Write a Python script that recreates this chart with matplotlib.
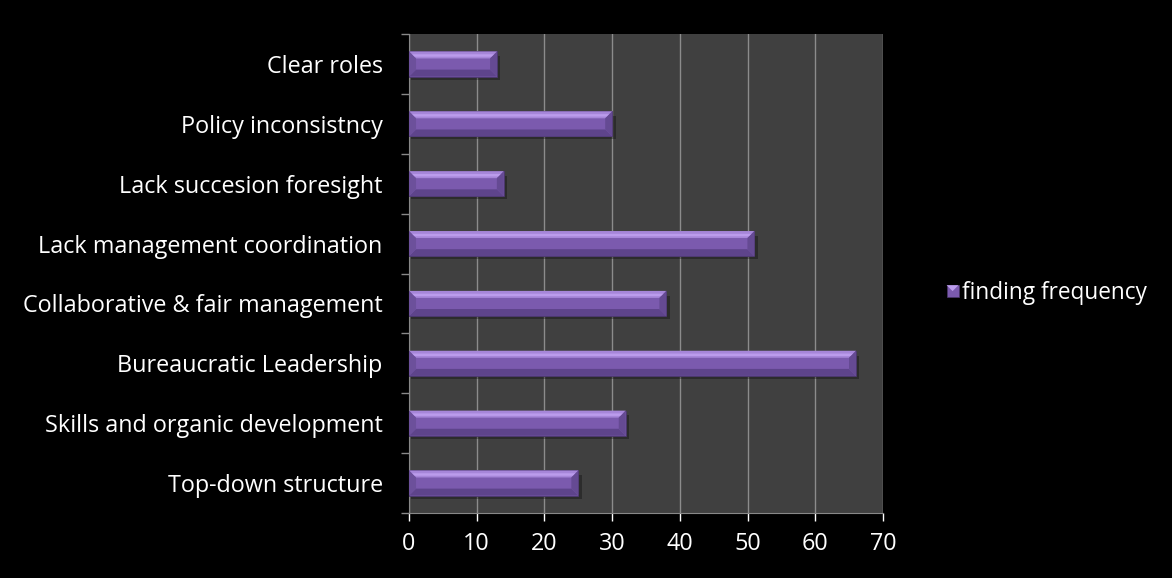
import matplotlib
matplotlib.use("Agg")
import matplotlib.pyplot as plt
from matplotlib.patches import Polygon, Patch
from matplotlib.legend_handler import HandlerPatch

categories = [
    "Top-down structure",
    "Skills and organic development",
    "Bureaucratic Leadership",
    "Collaborative & fair management",
    "Lack management coordination",
    "Lack succesion foresight",
    "Policy inconsistncy",
    "Clear roles",
]
frequency = [25, 32, 66, 38, 51, 14, 30, 13]
series_name = "finding frequency"

face = "#7b5aae"
light = "#a686d9"
lighter = "#bb9cec"
dark = "#5e448b"
edge = "#4a366c"

plt.rcParams["font.family"] = ["Open Sans", "DejaVu Sans"]

fig = plt.figure(figsize=(11.72, 5.78), dpi=100, facecolor="black")
ax = fig.add_axes([0.349, 0.1125, 0.4045, 0.8285])
ax.set_facecolor("#404040")

n = len(categories)
ax.set_xlim(0, 70)
ax.set_ylim(-0.5, n - 0.5)

bar_h = 0.42
# bevel size in data units so the corners come out at 45 degrees on screen
bbox = ax.get_window_extent()
px_x = bbox.width / 70
px_y = bbox.height / n
bev_px = 7
dy = bev_px / px_y
dx = bev_px / px_x

for i, v in enumerate(frequency):
    y0 = i - bar_h / 2
    y1 = i + bar_h / 2
    # soft shadow
    ax.add_patch(Polygon([(0.3, y0 - 0.05), (v + 0.5, y0 - 0.05), (v + 0.5, y1 - 0.08), (0.3, y1 - 0.08)],
                         closed=True, facecolor="black", alpha=0.3, lw=0, zorder=2))
    ax.barh(i, v, height=bar_h, color=face, edgecolor=edge, linewidth=0.6, zorder=3)
    # top bevel, lighter near the edge
    ax.add_patch(Polygon([(0, y1), (v, y1), (v - dx, y1 - dy), (dx, y1 - dy)],
                         closed=True, facecolor=light, lw=0, zorder=4))
    ax.add_patch(Polygon([(dx * 0.4, y1 - dy * 0.4), (v - dx * 0.4, y1 - dy * 0.4),
                          (v - dx * 0.75, y1 - dy * 0.75), (dx * 0.75, y1 - dy * 0.75)],
                         closed=True, facecolor=lighter, lw=0, zorder=4))
    # bottom bevel
    ax.add_patch(Polygon([(0, y0), (v, y0), (v - dx, y0 + dy), (dx, y0 + dy)],
                         closed=True, facecolor=dark, lw=0, zorder=4))
    # right end
    ax.add_patch(Polygon([(v, y0), (v, y1), (v - dx, y1 - dy), (v - dx, y0 + dy)],
                         closed=True, facecolor="#654a93", lw=0, zorder=4))
    # left end
    ax.add_patch(Polygon([(0, y0), (0, y1), (dx, y1 - dy), (dx, y0 + dy)],
                         closed=True, facecolor="#6c509b", lw=0, zorder=4))

ax.set_yticks(range(n))
ax.set_yticklabels(categories, color="white", fontsize=16.8)
ax.set_yticks([k - 0.5 for k in range(n + 1)], minor=True)
ax.tick_params(axis="y", which="major", length=0, pad=19)
ax.tick_params(axis="y", which="minor", length=6, color="#888888", width=1)

ax.set_xticks(range(0, 71, 10))
ax.tick_params(axis="x", colors="white", labelsize=16.8, length=6, width=1, pad=8)
for t in ax.get_xticklines():
    t.set_color("#888888")

ax.grid(axis="x", color="#8c8c8c", linewidth=1, zorder=1)
ax.set_axisbelow(True)

for side in ["top", "right"]:
    ax.spines[side].set_visible(False)
ax.spines["left"].set_color("#888888")
ax.spines["bottom"].set_color("#888888")


class BevelHandler(HandlerPatch):
    def create_artists(self, legend, orig_handle, xdescent, ydescent, width, height, fontsize, trans):
        s = height * 0.75
        x0 = xdescent + width - s
        y0 = -ydescent + (height - s) / 2
        sq = Polygon([(x0, y0), (x0 + s, y0), (x0 + s, y0 + s), (x0, y0 + s)],
                     closed=True, facecolor=face, edgecolor=edge, lw=0.5, transform=trans)
        tri = Polygon([(x0, y0 + s), (x0 + s, y0 + s), (x0 + s / 2, y0 + s / 2)],
                      closed=True, facecolor=lighter, lw=0, transform=trans)
        return [sq, tri]


handle = Patch(facecolor=face)
fig.legend([handle], [series_name], loc="center left", bbox_to_anchor=(0.785, 0.493),
           frameon=False, labelcolor="white", fontsize=16.3, handlelength=0.8,
           handletextpad=0.15, handler_map={Patch: BevelHandler()})

fig.savefig("out.png", dpi=100, facecolor="black")
